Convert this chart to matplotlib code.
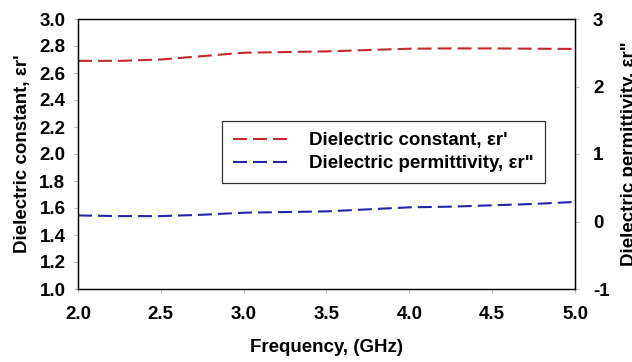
import matplotlib
matplotlib.use("Agg")
import matplotlib.pyplot as plt

plt.rcParams['font.family'] = ['Liberation Sans', 'DejaVu Sans']
plt.rcParams['font.weight'] = 'bold'
plt.rcParams['axes.unicode_minus'] = False

freq = [2.0, 2.25, 2.5, 2.75, 3.0, 3.25, 3.5, 3.75, 4.0, 4.25, 4.5, 4.75, 5.0]
eps_real = [2.69, 2.69, 2.70, 2.725, 2.75, 2.755, 2.76, 2.77, 2.78, 2.782, 2.782, 2.78, 2.778]
eps_imag = [0.09, 0.08, 0.08, 0.10, 0.13, 0.14, 0.15, 0.18, 0.21, 0.22, 0.24, 0.26, 0.29]

fig = plt.figure(figsize=(6.32, 3.62), dpi=100)
ax = fig.add_axes([78 / 632, 1 - 289 / 362, (575 - 78) / 632, (289 - 19) / 362])
ax2 = ax.twinx()

l1, = ax.plot(freq, eps_real, color='#c4282c', lw=1.5, dashes=(6.7, 2.9),
              label="Dielectric constant, εr'")
l2, = ax2.plot(freq, eps_imag, color='#2424aa', lw=1.5, dashes=(6.7, 2.9),
               label='Dielectric permittivity, εr"')

ax.set_xlim(2.0, 5.0)
ax.set_ylim(1.0, 3.0)
ax2.set_ylim(-1, 3)
ax.set_xticks([2.0, 2.5, 3.0, 3.5, 4.0, 4.5, 5.0])
ax.set_yticks([1.0, 1.2, 1.4, 1.6, 1.8, 2.0, 2.2, 2.4, 2.6, 2.8, 3.0])
ax2.set_yticks([-1, 0, 1, 2, 3])
ax.xaxis.set_major_formatter(matplotlib.ticker.FormatStrFormatter('%.1f'))
ax.yaxis.set_major_formatter(matplotlib.ticker.FormatStrFormatter('%.1f'))

for a in (ax, ax2):
    a.tick_params(labelsize=13.5, length=3, color='#bbbbbb', width=0.8)
    for s in a.spines.values():
        s.set_linewidth(0.9)
ax.tick_params(axis='x', pad=9)
ax.tick_params(axis='y', pad=6)
ax2.tick_params(axis='y', pad=10)

ax.set_xlabel('Frequency, (GHz)', fontsize=13.5, fontweight='bold', labelpad=12)
ax.set_ylabel("Dielectric constant, εr'", fontsize=13.5, fontweight='bold', labelpad=6)
ax2.set_ylabel('Dielectric permittivity, εr"', fontsize=13.5, fontweight='bold', labelpad=8)

leg = ax.legend(handles=[l1, l2], loc='upper left', bbox_to_anchor=(0.29, 0.622),
                borderaxespad=0, fontsize=13.5, frameon=True, fancybox=False,
                edgecolor='black', handlelength=2.95, handletextpad=1.1,
                borderpad=0.6, labelspacing=0.3)
leg.get_frame().set_linewidth(0.9)

fig.savefig('out.png', dpi=100)
